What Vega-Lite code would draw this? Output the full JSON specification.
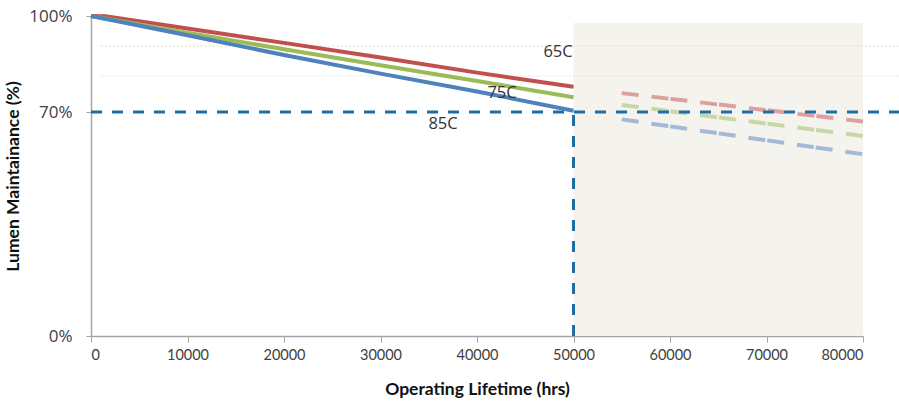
{
  "$schema": "https://vega.github.io/schema/vega-lite/v6.json",
  "width": 772,
  "height": 320,
  "autosize": {"type": "none"},
  "padding": {"left": 91, "top": 16, "right": 36, "bottom": 66},
  "background": "white",
  "config": {"view": {"stroke": null}},
  "datasets": {
    "shade": [{"x": 50000, "x2": 80000, "y": 0, "y2": 97.8}],
    "faint": [{"x": 1000, "x2": 83730, "y": 90.6}, {"x": 1000, "x2": 83730, "y": 81.25}],
    "measured": [
      {"series": "65C", "x": 0, "y": 100}, {"series": "65C", "x": 1500, "y": 99.9},
      {"series": "65C", "x": 10000, "y": 96.1}, {"series": "65C", "x": 20000, "y": 91.6},
      {"series": "65C", "x": 30000, "y": 87.0}, {"series": "65C", "x": 40000, "y": 82.3},
      {"series": "65C", "x": 50000, "y": 77.9},
      {"series": "75C", "x": 0, "y": 100}, {"series": "75C", "x": 10000, "y": 94.8},
      {"series": "75C", "x": 20000, "y": 89.6}, {"series": "75C", "x": 30000, "y": 84.6},
      {"series": "75C", "x": 40000, "y": 79.7}, {"series": "75C", "x": 50000, "y": 74.6},
      {"series": "85C", "x": 0, "y": 100}, {"series": "85C", "x": 10000, "y": 94.0},
      {"series": "85C", "x": 20000, "y": 87.8}, {"series": "85C", "x": 30000, "y": 82.0},
      {"series": "85C", "x": 40000, "y": 76.4}, {"series": "85C", "x": 50000, "y": 70.4}
    ],
    "projected": [
      {"series": "65C", "x": 55000, "y": 75.9}, {"series": "65C", "x": 80000, "y": 67.0},
      {"series": "75C", "x": 55000, "y": 72.2}, {"series": "75C", "x": 80000, "y": 62.5},
      {"series": "85C", "x": 55000, "y": 67.7}, {"series": "85C", "x": 80000, "y": 56.8}
    ],
    "h70": [{"x": 0, "x2": 83730, "y": 70}],
    "v50": [{"x": 50000, "y": 0, "y2": 70}],
    "labels": [
      {"label": "65C", "x": 48394, "y": 88.75},
      {"label": "75C", "x": 42591, "y": 75.9},
      {"label": "85C", "x": 36477, "y": 66.25}
    ]
  },
  "encoding": {
    "x": {
      "field": "x", "type": "quantitative",
      "scale": {"domain": [0, 80000], "nice": false, "zero": false},
      "axis": {
        "values": [0, 10000, 20000, 30000, 40000, 50000, 60000, 70000, 80000],
        "format": "d", "grid": false,
        "domainColor": "#a6a6a6", "domainWidth": 1.5,
        "tickColor": "#a6a6a6", "tickSize": 6, "tickWidth": 1,
        "labelFont": "Lato", "labelFontSize": 14.5, "labelColor": "#404040", "labelPadding": 6,
        "title": "Operating Lifetime (hrs)",
        "titleFont": "Lato", "titleFontSize": 17.5, "titleFontWeight": "bold", "titleColor": "#111111",
        "titlePadding": 19
      }
    },
    "y": {
      "field": "y", "type": "quantitative",
      "scale": {"domain": [0, 100], "nice": false},
      "axis": {
        "values": [0, 70, 100],
        "labelExpr": "datum.value + '%'", "grid": false,
        "domainColor": "#a6a6a6", "domainWidth": 1.5,
        "tickColor": "#a6a6a6", "tickSize": 5,
        "labelFont": "Open Sans", "labelFontSize": 17, "labelColor": "#404040", "labelPadding": 14,
        "title": "Lumen Maintainance (%)",
        "titleFont": "Lato", "titleFontSize": 17.5, "titleFontWeight": "bold", "titleColor": "#111111",
        "titlePadding": 6
      }
    }
  },
  "layer": [
    {
      "data": {"name": "shade"},
      "mark": {"type": "rect", "color": "#f4f3ee"},
      "encoding": {"x2": {"field": "x2"}, "y2": {"field": "y2"}}
    },
    {
      "data": {"name": "faint"},
      "mark": {"type": "rule", "color": "#e6e4d2", "strokeWidth": 1.2, "strokeDash": [2, 2]},
      "encoding": {"x2": {"field": "x2"}}
    },
    {
      "data": {"name": "projected"},
      "mark": {"type": "line", "strokeWidth": 4, "opacity": 0.5, "strokeDash": [17, 2, 17, 13], "strokeDashOffset": 19, "strokeCap": "butt"},
      "encoding": {
        "color": {"field": "series", "type": "nominal", "scale": {"domain": ["65C", "75C", "85C"], "range": ["#c0504d", "#9bbb59", "#4f81bd"]}, "legend": null}
      }
    },
    {
      "data": {"name": "measured"},
      "mark": {"type": "line", "strokeWidth": 4},
      "encoding": {
        "color": {"field": "series", "type": "nominal", "scale": {"domain": ["65C", "75C", "85C"], "range": ["#c0504d", "#9bbb59", "#4f81bd"]}, "legend": null}
      }
    },
    {
      "data": {"name": "h70"},
      "mark": {"type": "rule", "color": "#1c6ea4", "strokeWidth": 3, "strokeDash": [11, 10]},
      "encoding": {"x2": {"field": "x2"}}
    },
    {
      "data": {"name": "v50"},
      "mark": {"type": "rule", "color": "#1c6ea4", "strokeWidth": 3, "strokeDash": [11, 10]},
      "encoding": {"y2": {"field": "y2"}}
    },
    {
      "data": {"name": "labels"},
      "mark": {"type": "text", "font": "Open Sans", "fontSize": 16.5, "color": "#333333", "align": "center", "baseline": "middle"},
      "encoding": {"text": {"field": "label"}}
    }
  ]
}
